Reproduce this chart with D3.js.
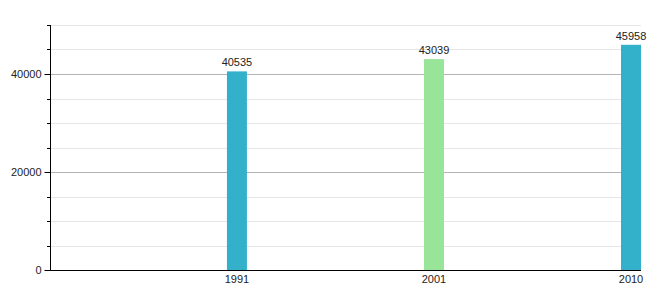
<!DOCTYPE html>
<html><head><meta charset="utf-8">
<script src="https://cdn.jsdelivr.net/npm/d3@7"></script>
<style>body{margin:0;background:#fff;}svg{display:block;font-family:"Liberation Sans",Arial,sans-serif;}</style>
</head><body><svg id="c" width="660" height="300"></svg>
<script>
const categories = ["1991", "2001", "2010"];
const values = [40535, 43039, 45958];
const colors = ["#33b1cb", "#98e498", "#33b1cb"];
const majorTicks = [0, 20000, 40000];
const minorTicks = [5000, 10000, 15000, 25000, 30000, 35000, 45000, 50000];

(function () {
const svg = d3.select("#c");
const mLeft = 50, mRight = 641, mTop = 25, mBottom = 270;
const y = d3.scaleLinear().domain([0, 50000]).range([mBottom, mTop]);
const x = d3.scaleBand().domain(categories).range([mLeft, mRight])
  .paddingInner(177/197).paddingOuter(0.449).align(1);

// minor gridlines
svg.append("g").selectAll("line").data(minorTicks).join("line")
  .attr("x1", mLeft + 1).attr("x2", mRight)
  .attr("y1", d => Math.round(y(d)) + 0.5).attr("y2", d => Math.round(y(d)) + 0.5)
  .attr("stroke", "#e6e6e6");
// major gridlines
svg.append("g").selectAll("line").data(majorTicks.filter(d => d > 0)).join("line")
  .attr("x1", mLeft).attr("x2", mRight)
  .attr("y1", d => Math.round(y(d)) + 0.5).attr("y2", d => Math.round(y(d)) + 0.5)
  .attr("stroke", "#b4b4b4");

// bars
svg.append("g").selectAll("rect").data(values).join("rect")
  .attr("x", (d, i) => x(categories[i])).attr("width", x.bandwidth())
  .attr("y", d => y(d)).attr("height", d => mBottom - y(d))
  .attr("fill", (d, i) => colors[i]);

// value labels
svg.append("g").selectAll("text").data(values).join("text")
  .attr("x", (d, i) => x(categories[i]) + x.bandwidth() / 2)
  .attr("y", d => y(d) - 5)
  .attr("text-anchor", "middle").attr("font-size", 11).attr("fill", "#222")
  .text(d => d);

// y axis
const yAxis = d3.axisLeft(y).tickValues(majorTicks).tickSize(6).tickFormat(d3.format("d"));
const gy = svg.append("g").attr("transform", `translate(${mLeft + 0.5},0)`).call(yAxis);
gy.select(".domain").attr("d", `M0,${mTop}V${mBottom}`).attr("stroke", "#000");
gy.selectAll(".tick line").attr("stroke", "#000");
gy.selectAll(".tick text").attr("font-size", 11).attr("fill", "#222").attr("font-family", "Liberation Sans, Arial, sans-serif");
svg.append("g").selectAll("line").data(minorTicks).join("line")
  .attr("x1", mLeft - 3).attr("x2", mLeft + 1)
  .attr("y1", d => Math.round(y(d)) + 0.5).attr("y2", d => Math.round(y(d)) + 0.5)
  .attr("stroke", "#000");

// x axis
const xAxis = d3.axisBottom(x).tickSize(0).tickPadding(5);
const gx = svg.append("g").attr("transform", `translate(0,${mBottom + 0.5})`).call(xAxis);
gx.select(".domain").attr("d", `M${mLeft},0H${mRight}`).attr("stroke", "#000");
gx.selectAll(".tick text").attr("font-size", 11).attr("fill", "#222").attr("font-family", "Liberation Sans, Arial, sans-serif");
})();
</script></body></html>
